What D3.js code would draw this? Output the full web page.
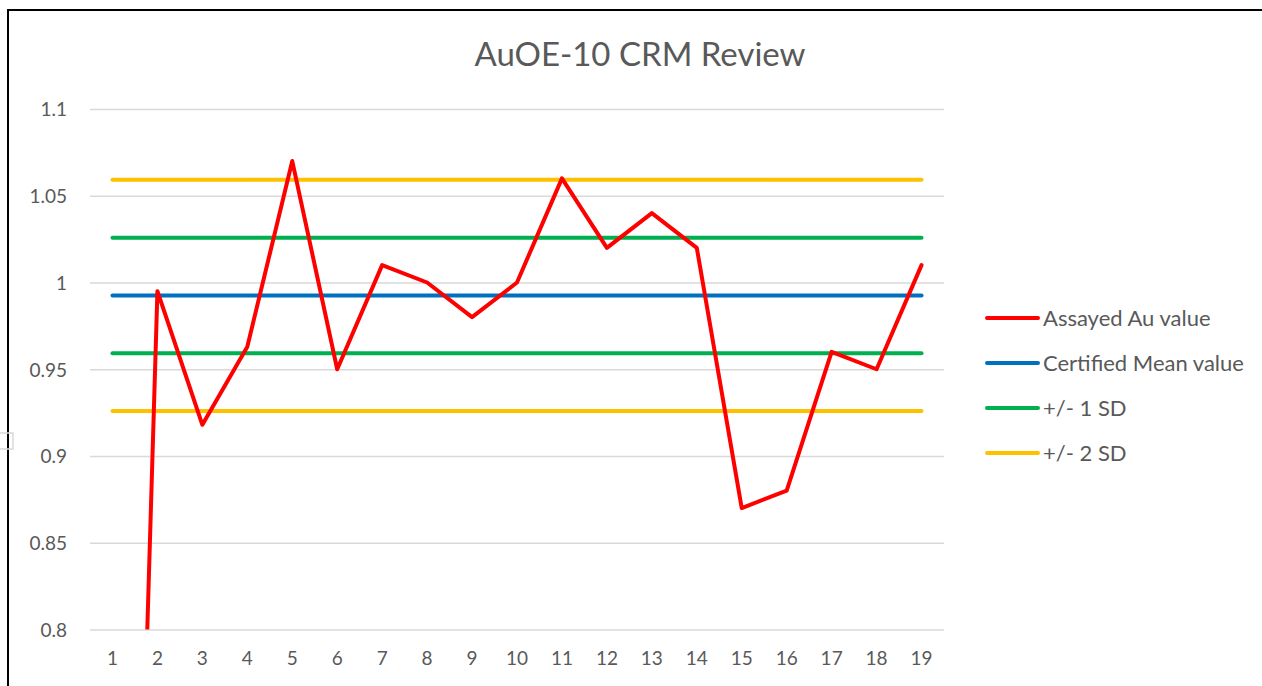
<!DOCTYPE html>
<html>
<head>
<meta charset="utf-8">
<script src="https://cdn.jsdelivr.net/npm/d3@7"></script>
<style>
  html, body { margin: 0; padding: 0; background: #fff; }
  svg { display: block; }
  text { font-family: Lato, "Open Sans", sans-serif; fill: #595959; }
</style>
</head>
<body>
<script>
// Sample sequence numbers along the x axis
const samples = [1, 2, 3, 4, 5, 6, 7, 8, 9, 10, 11, 12, 13, 14, 15, 16, 17, 18, 19];
// Assayed gold values per sample (g/t)
const assayed = [0.13, 0.995, 0.918, 0.963, 1.07, 0.95, 1.01, 1.0, 0.98, 1.0, 1.06, 1.02, 1.04, 1.02, 0.87, 0.88, 0.96, 0.95, 1.01];
// Certified reference values
const certifiedMean = 0.9925;
const sd1Bounds = [0.9592, 1.0258];
const sd2Bounds = [0.9259, 1.0592];
// Y axis tick values
const yTicks = [0.8, 0.85, 0.9, 0.95, 1.0, 1.05, 1.1];
const yTickLabels = ["0.8", "0.85", "0.9", "0.95", "1", "1.05", "1.1"];

const legendItems = [
  { label: "Assayed Au value", color: "#ff0000" },
  { label: "Certified Mean value", color: "#0070c0" },
  { label: "+/- 1 SD", color: "#00b050" },
  { label: "+/- 2 SD", color: "#ffc000" }
];

const W = 1262, H = 686;
const plot = { left: 90, right: 944, top: 109, bottom: 629.5 };

const svg = d3.select("body").append("svg")
  .attr("width", W).attr("height", H);

// Chart frame (left and top edges visible)
svg.append("path")
  .attr("d", `M8,${H} L8,10 L${W},10`)
  .attr("fill", "none").attr("stroke", "#000").attr("stroke-width", 2);

// Small selection handle on the frame edge
svg.append("rect")
  .attr("x", -4).attr("y", 433).attr("width", 17).attr("height", 16)
  .attr("fill", "none").attr("stroke", "#d9d9d9").attr("stroke-width", 1.5);

const x = d3.scaleBand().domain(samples).range([plot.left, plot.right]);
const xc = d => x(d) + x.bandwidth() / 2;
const y = d3.scaleLinear().domain([0.8, 1.1]).range([plot.bottom, plot.top]);

// Horizontal gridlines
const yAxis = d3.axisLeft(y).tickValues(yTicks)
  .tickSize(-(plot.right - plot.left))
  .tickFormat((d, i) => yTickLabels[i]);
const gy = svg.append("g").attr("transform", `translate(${plot.left},0)`).call(yAxis);
gy.select(".domain").remove();
gy.selectAll(".tick line").attr("stroke", "#d9d9d9").attr("stroke-width", 1.5);
gy.selectAll(".tick text")
  .attr("x", -23).attr("dy", "0.36em")
  .style("font-size", "19px").attr("fill", "#595959");

// X axis labels
const xAxis = d3.axisBottom(x).tickSize(0).tickPadding(22);
const gx = svg.append("g").attr("transform", `translate(0,${plot.bottom})`).call(xAxis);
gx.select(".domain").remove();
gx.selectAll(".tick text").style("font-size", "19px").attr("fill", "#595959");

// Reference lines drawn across all samples
const refLine = v => samples.map(s => [xc(s), y(v)]);
const line = d3.line();
const refs = [
  { v: sd2Bounds[0], c: "#ffc000" },
  { v: sd2Bounds[1], c: "#ffc000" },
  { v: sd1Bounds[0], c: "#00b050" },
  { v: sd1Bounds[1], c: "#00b050" },
  { v: certifiedMean, c: "#0070c0" }
];

svg.append("clipPath").attr("id", "plotClip")
  .append("rect")
  .attr("x", plot.left).attr("y", plot.top - 20)
  .attr("width", plot.right - plot.left).attr("height", plot.bottom - plot.top + 20);

refs.forEach(r => {
  svg.append("path")
    .attr("d", line(refLine(r.v)))
    .attr("fill", "none").attr("stroke", r.c)
    .attr("stroke-width", 4).attr("stroke-linecap", "round");
});

// Assayed series, clipped to the plot area
const gTop = svg.append("g").attr("clip-path", "url(#plotClip)");
gTop.append("path")
  .attr("d", d3.line().x((d, i) => xc(samples[i])).y(d => y(d))(assayed))
  .attr("fill", "none").attr("stroke", "#ff0000")
  .attr("stroke-width", 4).attr("stroke-linejoin", "round").attr("stroke-linecap", "round");

// Title
svg.append("text")
  .attr("x", 640).attr("y", 66)
  .attr("text-anchor", "middle")
  .style("font-size", "33px")
  .text("AuOE-10 CRM Review");

// Legend
const lg = svg.append("g");
legendItems.forEach((it, i) => {
  const ly = 318 + i * 45;
  lg.append("line")
    .attr("x1", 987).attr("x2", 1038).attr("y1", ly).attr("y2", ly)
    .attr("stroke", it.color).attr("stroke-width", 4).attr("stroke-linecap", "round");
  lg.append("text")
    .attr("x", 1043).attr("y", ly).attr("dy", "0.36em")
    .style("font-size", "22px")
    .text(it.label);
});
</script>
</body>
</html>
